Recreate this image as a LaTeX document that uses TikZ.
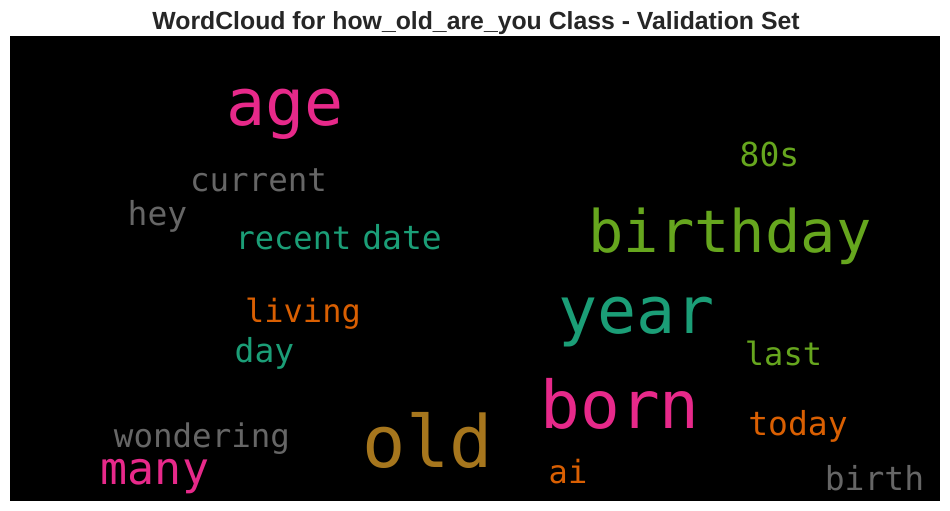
\documentclass[tikz,border=0pt]{standalone}
\usepackage{fontspec}
\setmainfont{Liberation Sans}
\newfontfamily\wcfont{DejaVu Sans Mono}
\definecolor{wpink}{HTML}{E7298A}
\definecolor{wgray}{HTML}{666666}
\definecolor{wteal}{HTML}{1B9E77}
\definecolor{wgreen}{HTML}{66A61E}
\definecolor{worange}{HTML}{D95F02}
\definecolor{wbrown}{HTML}{A6761D}
\definecolor{titlegray}{HTML}{262626}
\tikzset{
  word/.style={anchor=base, inner sep=0pt, outer sep=0pt},
}
\newcommand{\wsz}[1]{\wcfont\fontsize{#1}{#1}\selectfont}
\begin{document}
\begin{tikzpicture}[x=1pt,y=-1pt]
\useasboundingbox (0,0) rectangle (950,511);
\fill[white] (0,0) rectangle (950,511);
\fill[black] (10,36) rectangle (940,501);
\node[anchor=base, inner sep=0pt, text=titlegray, font=\bfseries\fontsize{24.8}{24.8}\selectfont] (title) at (476,30) {WordCloud for how\_old\_are\_you Class - Validation Set};
\node[word, text=wpink, font=\wsz{65}] (age) at (285,125) {age};
\node[word, text=wgray, font=\wsz{32.5}] (current) at (258.5,191) {current};
\node[word, text=wgray, font=\wsz{33}] (hey) at (157.5,225) {hey};
\node[word, text=wteal, font=\wsz{32}] (recent) at (293.5,249) {recent};
\node[word, text=wteal, font=\wsz{33}] (date) at (402,249) {date};
\node[word, text=wgreen, font=\wsz{33}] (s80) at (769.5,166) {80s};
\node[word, text=wgreen, font=\wsz{58.7}] (birthday) at (730,252) {birthday};
\node[word, text=wteal, font=\wsz{65}] (year) at (636.5,333) {year};
\node[word, text=wgreen, font=\wsz{32}] (last) at (783.5,365) {last};
\node[word, text=worange, font=\wsz{32}] (living) at (303,322) {living};
\node[word, text=wteal, font=\wsz{33}] (day) at (264.5,362) {day};
\node[word, text=wgray, font=\wsz{32.5}] (wondering) at (202,447) {wondering};
\node[word, text=wpink, font=\wsz{45}] (many) at (155,484) {many};
\node[word, text=wbrown, font=\wsz{72}] (old) at (428,467) {old};
\node[word, text=wpink, font=\wsz{66}] (born) at (620,428) {born};
\node[word, text=worange, font=\wsz{33}] (today) at (798,435) {today};
\node[word, text=worange, font=\wsz{32}] (ai) at (568,483) {ai};
\node[word, text=wgray, font=\wsz{33}] (birth) at (874.5,490) {birth};
\end{tikzpicture}
\end{document}
